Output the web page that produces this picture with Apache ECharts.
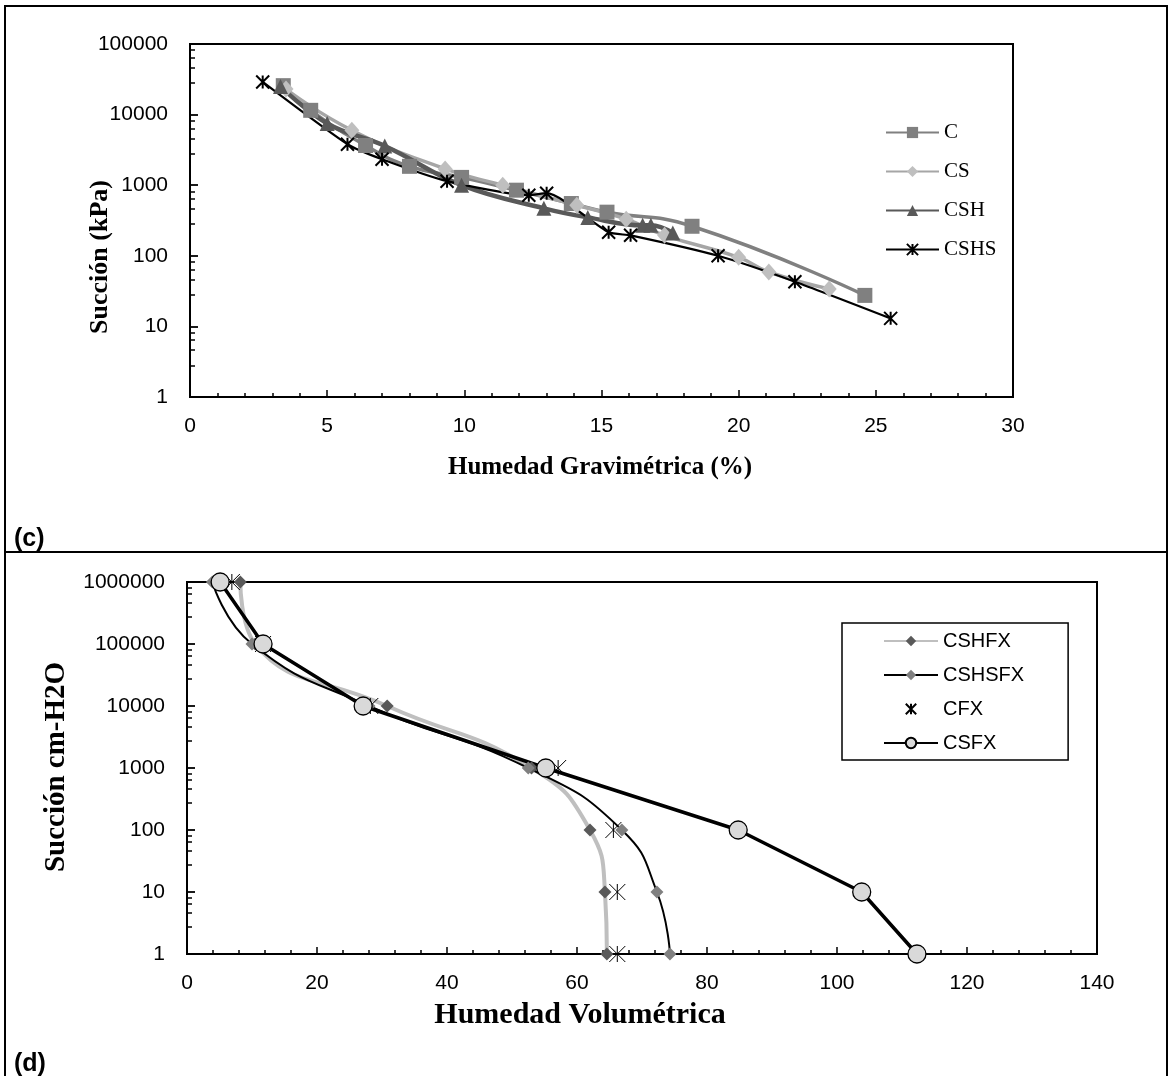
<!DOCTYPE html>
<html><head><meta charset="utf-8">
<script src="https://cdn.jsdelivr.net/npm/echarts@6/dist/echarts.min.js"></script>
<style>html,body{margin:0;padding:0;background:#fff}#c{width:1172px;height:1076px}</style>
</head><body><div id="c"></div>
<script>
// ---------- Panel (c): Succión (kPa) vs Humedad Gravimétrica (%) ----------
const gravTicks = [0, 5, 10, 15, 20, 25, 30];
const kpaTicks = [1, 10, 100, 1000, 10000, 100000];
const C_x    = [3.4, 4.4, 6.4, 8.0, 9.9, 11.9, 13.9, 15.2, 18.3, 24.6];
const C_y    = [25700, 11500, 3650, 1850, 1290, 850, 550, 415, 262, 27.5];
const CS_x   = [3.5, 5.9, 9.3, 11.4, 14.1, 15.9, 17.3, 20.0, 21.1, 23.3];
const CS_y   = [23000, 6000, 1700, 1000, 520, 330, 195, 95, 59, 34];
const CSH_x  = [3.3, 5.0, 7.1, 9.9, 12.9, 14.5, 16.5, 16.8, 17.6];
const CSH_y  = [25000, 7500, 3600, 1000, 470, 350, 270, 270, 210];
const CSHS_x = [2.65, 5.74, 7.0, 9.37, 12.35, 13.0, 15.26, 16.06, 19.25, 22.05, 25.54];
const CSHS_y = [29000, 3800, 2330, 1140, 720, 770, 215, 195, 100, 43, 13];

// ---------- Panel (d): Succión cm-H2O vs Humedad Volumétrica ----------
const volTicks = [0, 20, 40, 60, 80, 100, 120, 140];
const cmTicks = [1, 10, 100, 1000, 10000, 100000, 1000000];
const suctionLevels = [1000000, 100000, 10000, 1000, 100, 10, 1];
const CSHFX_x  = [8.2, 10.5, 30.8, 53.0, 62.0, 64.3, 64.6];
const CSHSFX_x = [3.9, 10.0, 28.0, 52.5, 66.9, 72.3, 74.3];
const CFX_x    = [6.9, 11.7, 28.2, 57.1, 65.6, 66.2, 66.2];
const CSFX_x   = [5.1, 11.7, 27.1, 55.2, 84.8, 103.8, 112.3];

function zip(xs, ys) { return xs.map((x, i) => [x, ys[i]]); }
const STAR = 'path://M0,0L10,10M10,0L0,10M5,0L5,10';
const sans = '"Liberation Sans", Arial, sans-serif';
const serif = '"Liberation Serif", "Times New Roman", serif';
const lbl = { color: '#000', fontFamily: sans, fontSize: 21 };

function xAxisDef(gi, max, interval, ticks) {
  return {
    type: 'value', gridIndex: gi, min: 0, max: max, interval: interval,
    axisLine: { show: true, lineStyle: { color: '#000', width: 2 } },
    axisTick: { show: true, inside: true, length: 7, lineStyle: { color: '#000', width: 1.5 } },
    minorTick: { show: true, splitNumber: 5, length: 4, lineStyle: { color: '#000', width: 1.5 } },
    splitLine: { show: false }, minorSplitLine: { show: false },
    axisLabel: Object.assign({ margin: 19, formatter: v => ticks.includes(v) ? String(v) : '' }, lbl)
  };
}
function yLog(gi, max, ticks) {
  return {
    type: 'log', logBase: 10, gridIndex: gi, min: 1, max: max, position: 'left',
    axisLine: { show: true, lineStyle: { color: '#000', width: 2 } },
    axisTick: { show: true, inside: true, length: 8, lineStyle: { color: '#000', width: 1.8 } },
    minorTick: { show: true, length: 5, lineStyle: { color: '#000', width: 1.5 } },
    splitLine: { show: false }, minorSplitLine: { show: false },
    axisLabel: Object.assign({ margin: 22, formatter: v => {
      const r = Math.round(v); return ticks.includes(r) ? String(r) : ''; } }, lbl)
  };
}

const option = {
  animation: false,
  backgroundColor: '#fff',
  grid: [
    { left: 190, top: 44, right: 159, bottom: 679, show: true, borderColor: '#000', borderWidth: 2, backgroundColor: 'transparent' },
    { left: 187, top: 582, right: 75, bottom: 122, show: true, borderColor: '#000', borderWidth: 2, backgroundColor: 'transparent' }
  ],
  xAxis: [ xAxisDef(0, 30, 5, gravTicks), xAxisDef(1, 140, 20, volTicks) ],
  yAxis: [ yLog(0, 100000, kpaTicks), yLog(1, 1000000, cmTicks) ],
  legend: [
    { orient: 'vertical', left: 885, top: 122, padding: 0, itemWidth: 53, itemHeight: 14, itemGap: 18,
      data: ['C', 'CS', 'CSH', 'CSHS'], textStyle: { color: '#000', fontFamily: serif, fontSize: 21 }, selectedMode: false },
    { orient: 'vertical', left: 842, top: 623, padding: [8, 44, 7, 41], borderColor: '#000', borderWidth: 1.5,
      itemWidth: 54, itemHeight: 13, itemGap: 14,
      data: ['CSHFX', 'CSHSFX', 'CFX', 'CSFX'], textStyle: { color: '#000', fontFamily: sans, fontSize: 20 }, selectedMode: false }
  ],
  series: [
    { name: 'C', type: 'line', xAxisIndex: 0, yAxisIndex: 0, smooth: 0.5, data: zip(C_x, C_y),
      symbol: 'rect', symbolSize: 15, lineStyle: { color: '#808080', width: 3.5 }, itemStyle: { color: '#808080' } },
    { name: 'CS', type: 'line', xAxisIndex: 0, yAxisIndex: 0, smooth: 0.5, data: zip(CS_x, CS_y),
      symbol: 'diamond', symbolSize: [15, 17], lineStyle: { color: '#a6a6a6', width: 3.5 }, itemStyle: { color: '#bfbfbf' } },
    { name: 'CSH', type: 'line', xAxisIndex: 0, yAxisIndex: 0, smooth: 0.4, data: zip(CSH_x, CSH_y),
      symbol: 'triangle', symbolSize: 15, lineStyle: { color: '#595959', width: 4.5 }, itemStyle: { color: '#595959' } },
    { name: 'CSHS', type: 'line', xAxisIndex: 0, yAxisIndex: 0, smooth: 0.2, data: zip(CSHS_x, CSHS_y),
      symbol: STAR, symbolSize: 13, lineStyle: { color: '#000', width: 2.2 },
      itemStyle: { color: '#000', borderColor: '#000', borderWidth: 2 } },

    { name: 'CSHFX', type: 'line', xAxisIndex: 1, yAxisIndex: 1, smooth: 0.5, data: zip(CSHFX_x, suctionLevels),
      symbol: 'diamond', symbolSize: 13, lineStyle: { color: '#bfbfbf', width: 4 }, itemStyle: { color: '#595959' } },
    { name: 'CSHSFX', type: 'line', xAxisIndex: 1, yAxisIndex: 1, smooth: 0.5, data: zip(CSHSFX_x, suctionLevels),
      symbol: 'diamond', symbolSize: 13, lineStyle: { color: '#000', width: 2 }, itemStyle: { color: '#808080' } },
    { name: 'CFX', type: 'line', xAxisIndex: 1, yAxisIndex: 1, data: zip(CFX_x, suctionLevels),
      symbol: STAR, symbolSize: 16, lineStyle: { color: '#000', width: 1, opacity: 0 },
      itemStyle: { color: '#000', borderColor: '#000', borderWidth: 1 } },
    { name: 'CSFX', type: 'line', xAxisIndex: 1, yAxisIndex: 1, data: zip(CSFX_x, suctionLevels),
      symbol: 'circle', symbolSize: 18, lineStyle: { color: '#000', width: 3.5 },
      itemStyle: { color: '#d9d9d9', borderColor: '#000', borderWidth: 1.3 } }
  ],
  graphic: [
    { type: 'polyline', silent: true, shape: { points: [[5, 1076], [5, 6], [1167, 6], [1167, 1076]] }, style: { stroke: '#000', lineWidth: 2, fill: null } },
    { type: 'line', silent: true, shape: { x1: 5, y1: 552, x2: 1167, y2: 552 }, style: { stroke: '#000', lineWidth: 2 } },
    { type: 'text', silent: true, x: 100, y: 257, rotation: Math.PI / 2,
      style: { text: 'Succión (kPa)', font: 'bold 26px ' + serif, fill: '#000', align: 'center', verticalAlign: 'middle' } },
    { type: 'text', silent: true, x: 600, y: 468,
      style: { text: 'Humedad Gravimétrica (%)', font: 'bold 25px ' + serif, fill: '#000', align: 'center', verticalAlign: 'middle' } },
    { type: 'text', silent: true, x: 57, y: 767, rotation: Math.PI / 2,
      style: { text: 'Succión cm-H2O', font: 'bold 29px ' + serif, fill: '#000', align: 'center', verticalAlign: 'middle' } },
    { type: 'text', silent: true, x: 580, y: 1015,
      style: { text: 'Humedad Volumétrica', font: 'bold 30px ' + serif, fill: '#000', align: 'center', verticalAlign: 'middle' } },
    { type: 'text', silent: true, x: 14, y: 539,
      style: { text: '(c)', font: 'bold 25px ' + sans, fill: '#000', align: 'left', verticalAlign: 'middle' } },
    { type: 'text', silent: true, x: 14, y: 1064,
      style: { text: '(d)', font: 'bold 25px ' + sans, fill: '#000', align: 'left', verticalAlign: 'middle' } }
  ]
};
const chart = echarts.init(document.getElementById('c'), null, { renderer: 'canvas' });
chart.setOption(option);
</script>
</body></html>
